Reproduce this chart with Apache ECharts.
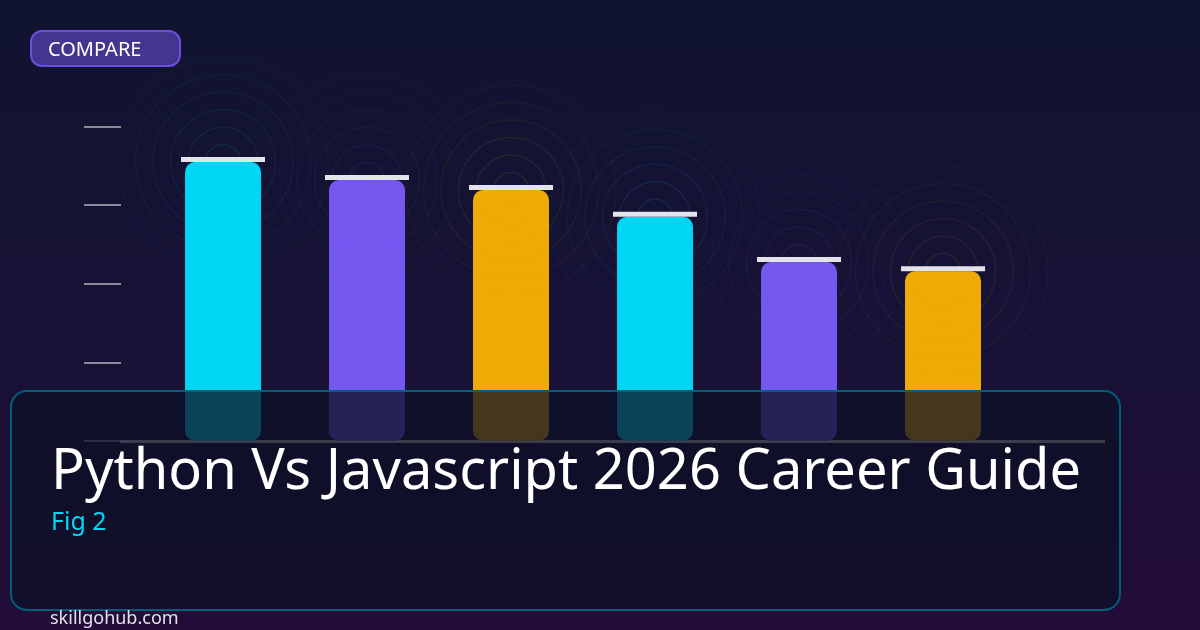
<!DOCTYPE html>
<html>
<head>
<meta charset="utf-8">
<style>
html,body{margin:0;padding:0;background:#14122f;}
#chart{width:1200px;height:630px;}
</style>
<script src="https://cdn.jsdelivr.net/npm/echarts@6/dist/echarts.min.js"></script>
</head>
<body>
<div id="chart"></div>
<script>
// values, the axis has no printed labels
var categories = ['1', '2', '3', '4', '5', '6'];
var values = [88.7, 83.0, 79.8, 71.3, 56.9, 54.0];
var barColors = ['#00d6f4', '#7558f0', '#eeab05', '#00d6f4', '#7558f0', '#eeab05'];
var ringSizes = [35, 70, 105, 140, 175, 210];
var ringAlpha = [0.15, 0.13, 0.11, 0.09, 0.07, 0.05];
var titleText = 'Python Vs Javascript 2026 Career Guide';
var figText = 'Fig 2';
var badgeText = 'COMPARE';
var siteText = 'skillgohub.com';

function hexAlpha(hex, a){
	var r = parseInt(hex.substr(1,2),16), g = parseInt(hex.substr(3,2),16), b = parseInt(hex.substr(5,2),16);
	return 'rgba('+r+','+g+','+b+','+a+')';
}

var series = [];
series.push({
	type: 'bar',
	barWidth: 76,
	z: 2,
	silent: true,
	data: values.map(function(v,i){
		return { value: v, itemStyle: { color: barColors[i], borderRadius: 10 } };
	})
});
ringSizes.forEach(function(size,k){
	series.push({
		type: 'scatter',
		symbol: 'circle',
		symbolSize: size,
		clip: false,
		silent: true,
		z: 3,
		data: values.map(function(v,i){
			return {
				value: v,
				itemStyle: { color: 'rgba(0,0,0,0)', borderColor: hexAlpha(barColors[i], ringAlpha[k]), borderWidth: 1.4 }
			};
		})
	});
});
// white caps on top of the bars
series.push({
	type: 'scatter',
	symbol: 'rect',
	symbolSize: [84, 5],
	symbolOffset: [0, -2.5],
	clip: false,
	silent: true,
	z: 4,
	itemStyle: { color: '#e3e3ea', opacity: 1 },
	data: values
});

var chart = echarts.init(document.getElementById('chart'));
chart.setOption({
	animation: false,
	backgroundColor: {
		type: 'linear', x: 0, y: 0, x2: 0, y2: 1,
		colorStops: [
			{ offset: 0, color: '#10142f' },
			{ offset: 0.5, color: '#171236' },
			{ offset: 1, color: '#230c38' }
		]
	},
	grid: { left: 151, right: 185, top: 126.6, bottom: 189.2 },
	xAxis: {
		type: 'category',
		data: categories,
		axisLine: { show: false },
		axisTick: { show: false },
		axisLabel: { show: false }
	},
	yAxis: {
		type: 'value',
		min: 0,
		max: 100,
		interval: 25,
		offset: 30,
		axisLine: { show: false },
		axisLabel: { show: false },
		splitLine: { show: false },
		axisTick: { show: true, length: 37, lineStyle: { color: 'rgba(255,255,255,0.5)', width: 2 } }
	},
	series: series,
	graphic: [
		{ type: 'line', z: 1, silent: true, shape: { x1: 120, y1: 441.5, x2: 1105, y2: 441.5 }, style: { stroke: 'rgba(255,255,255,0.75)', lineWidth: 3 } },
		{ type: 'rect', z: 50, silent: true, shape: { x: 11, y: 391, width: 1109, height: 219, r: 16 }, style: { fill: 'rgba(12,16,38,0.75)', stroke: '#005f78', lineWidth: 2 } },
		{ type: 'rect', z: 50, silent: true, shape: { x: 31, y: 31, width: 149, height: 35, r: 11 }, style: { fill: '#44368f', stroke: '#6a50e0', lineWidth: 2 } },
		{ type: 'text', z: 51, silent: true, style: { text: badgeText, x: 48, y: 50, fill: '#ffffff', font: '20px "Noto Sans"', verticalAlign: 'middle' } },
		{ type: 'text', z: 51, silent: true, style: { text: titleText, x: 51, y: 473, fill: '#ffffff', font: '56px "Noto Sans"', verticalAlign: 'middle' } },
		{ type: 'text', z: 51, silent: true, style: { text: figText, x: 51, y: 523, fill: '#00d6f4', font: '25px "Noto Sans"', verticalAlign: 'middle' } },
		{ type: 'text', z: 51, silent: true, style: { text: siteText, x: 50, y: 619, fill: '#e3e3ea', font: '18px "Noto Sans"', verticalAlign: 'middle' } }
	]
});
window.addEventListener('resize', function(){
	chart.resize();
});
</script>
</body>
</html>
